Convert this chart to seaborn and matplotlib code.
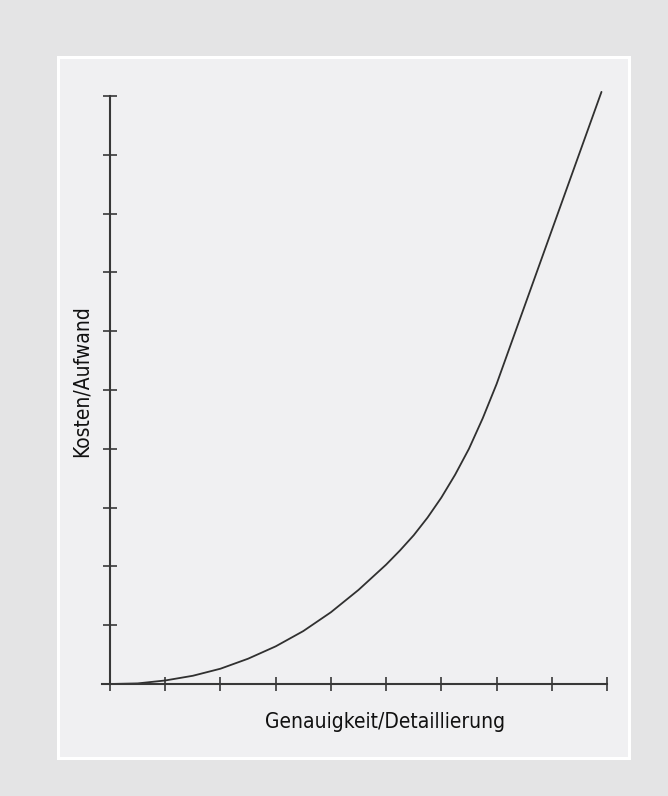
import pandas as pd
import seaborn as sns
import matplotlib.pyplot as plt
from matplotlib.patches import Rectangle

# curve values (x in tick units, y in tick units)
genauigkeit = [0, 0.5, 1, 1.5, 2, 2.5, 3, 3.5, 4, 4.5, 5, 5.25, 5.5, 5.75, 6,
               6.25, 6.5, 6.75, 7, 8.9]
kosten = [0, 0.01, 0.06, 0.14, 0.26, 0.43, 0.64, 0.90, 1.22, 1.60, 2.03, 2.27,
          2.53, 2.83, 3.17, 3.56, 4.00, 4.52, 5.10, 10.07]
x_ticks = list(range(10))
y_ticks = list(range(11))

x_label = "Genauigkeit/Detaillierung"
y_label = "Kosten/Aufwand"

df = pd.DataFrame({"x": genauigkeit, "y": kosten})

sns.set_style("white")
plt.rcParams['font.family'] = ['DejaVu Sans']
plt.rcParams['font.stretch'] = 'condensed'

W, H = 668, 796
dpi = 100
fig = plt.figure(figsize=(W / dpi, H / dpi), dpi=dpi, facecolor="#e4e4e5")

# panel with white frame
fig.patches.append(Rectangle((57.5 / W, 1 - 757.5 / H), 571 / W, 701 / H,
                             transform=fig.transFigure, facecolor="#f0f0f2",
                             edgecolor="white", linewidth=2.2, zorder=-5))

# axes placed so that x=0 -> px 110, x=9 -> px 607, y=0 -> px 684, y=10 -> px 96
px_x = (607 - 110) / 9
px_y = (684 - 96) / 10
x0, x1 = -0.5, 9.5
y0, y1 = -0.5, 10.5
left = (110 + x0 * px_x) / W
right = (110 + x1 * px_x) / W
bottom = 1 - (684 - y0 * px_y) / H
top = 1 - (684 - y1 * px_y) / H
ax = fig.add_axes([left, bottom, right - left, top - bottom])
ax.patch.set_visible(False)
ax.set_zorder(5)

axis_color = "#383838"
sns.lineplot(data=df, x="x", y="y", ax=ax, color="#303030", linewidth=1.3,
             estimator=None, sort=False, clip_on=False)

ax.set_xlim(x0, x1)
ax.set_ylim(y0, y1)
ax.set_xticks(x_ticks)
ax.set_yticks(y_ticks)
ax.set_xticklabels([])
ax.set_yticklabels([])
ax.set(xlabel=None, ylabel=None)

for s in ["top", "right"]:
    ax.spines[s].set_visible(False)
ax.spines["left"].set_position(("data", 0))
ax.spines["bottom"].set_position(("data", 0))
ax.spines["left"].set_bounds(0, 10)
ax.spines["bottom"].set_bounds(-8 / px_x, 9)
for s in ["left", "bottom"]:
    ax.spines[s].set_color(axis_color)
    ax.spines[s].set_linewidth(1.5)
ax.tick_params(axis="both", direction="inout", length=10.5, width=1.2,
               color=axis_color, bottom=True, left=True)

fig.text(385 / W, 1 - 722 / H, x_label, ha="center", va="center",
         fontsize=15, color="#111111", fontstretch="condensed")
fig.text(82 / W, 1 - 381 / H, y_label, ha="center", va="center",
         rotation=90, fontsize=15, color="#111111", fontstretch="condensed")

plt.savefig("out.png", dpi=dpi, facecolor=fig.get_facecolor())
